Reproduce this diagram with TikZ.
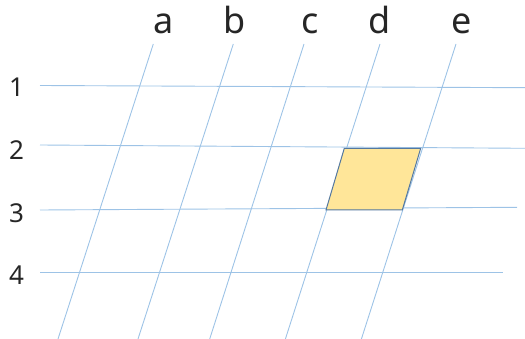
\documentclass[tikz,border=0pt]{standalone}
\usepackage{fontspec}
\setmainfont{Noto Sans}
\usetikzlibrary{calc}
\definecolor{gridline}{RGB}{157,195,230}
\definecolor{cellfill}{RGB}{255,230,153}
\definecolor{cellborder}{RGB}{84,120,160}
\tikzset{
  gridrule/.style={draw=gridline, line width=0.9pt},
  collabel/.style={font=\fontsize{36}{36}\selectfont, anchor=base, inner sep=0pt, text=black!85},
  rowlabel/.style={font=\fontsize{26}{26}\selectfont, anchor=base, inner sep=0pt, text=black!85},
  markedcell/.style={fill=cellfill, draw=cellborder, line width=1pt, line join=miter}
}
\begin{document}
\begin{tikzpicture}[x=1pt, y=-1pt]
  \useasboundingbox (0,0) rectangle (525,339);

  % Column labels
  \node[collabel] (la) at (164,33.3) {a};
  \node[collabel] (lb) at (235,33.3) {b};
  \node[collabel] (lc) at (310,33.3) {c};
  \node[collabel] (ld) at (379.3,33.3) {d};
  \node[collabel] (le) at (461.7,33.3) {e};

  % Row labels
  \node[rowlabel] (l1) at (16.5,96.7) {1};
  \node[rowlabel] (l2) at (16.5,160) {2};
  \node[rowlabel] (l3) at (16.5,223) {3};
  \node[rowlabel] (l4) at (16.5,285) {4};

  % Row rules
  \coordinate (r1-w) at (40,85.5);   \coordinate (r1-e) at (525,87.7);
  \coordinate (r2-w) at (40,145);    \coordinate (r2-e) at (525,148.3);
  \coordinate (r3-w) at (40,210);    \coordinate (r3-e) at (517,207.3);
  \coordinate (r4-w) at (40,272.5);  \coordinate (r4-e) at (503,272.5);
  \foreach \r in {1,2,3,4}
    \draw[gridrule] (r\r-w) -- (r\r-e);

  % Column rules (slanted)
  \foreach \c/\xt/\xb in {a/153.3/58, b/233.3/138, c/304/209.7, d/380/285.4, e/456/361.4} {
    \coordinate (\c-n) at (\xt,44);
    \coordinate (\c-s) at (\xb,339);
    \draw[gridrule] (\c-n) -- (\c-s);
  }

  % Marked cell d2
  \coordinate (cell-nw) at (344.3,148.3);
  \coordinate (cell-ne) at (420.7,148.3);
  \coordinate (cell-se) at (402.3,210);
  \coordinate (cell-sw) at (326,210);
  \draw[markedcell] (cell-nw) -- (cell-ne) -- (cell-se) -- (cell-sw) -- cycle;

\end{tikzpicture}
\end{document}
